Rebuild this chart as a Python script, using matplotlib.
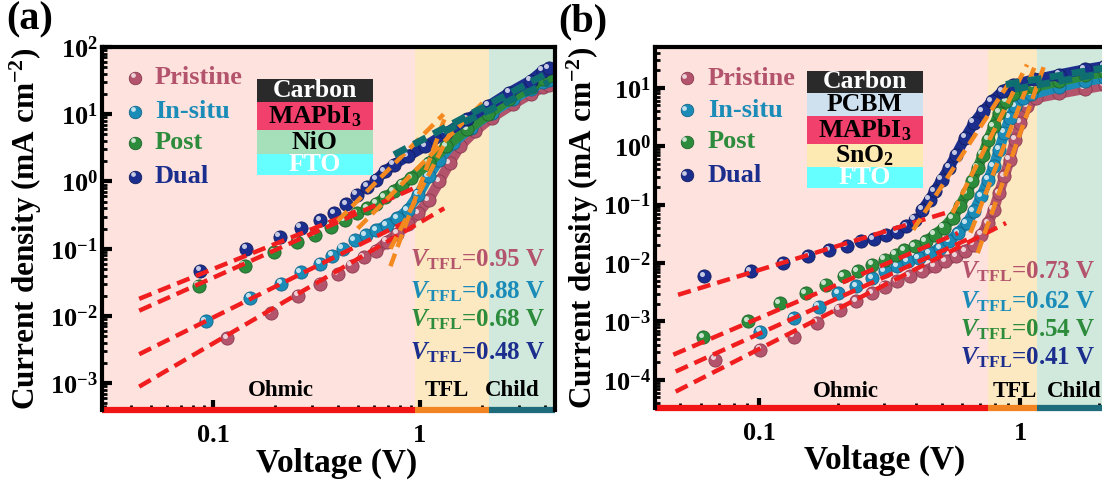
import numpy as np
import matplotlib
matplotlib.use('Agg')
import matplotlib.pyplot as plt
from matplotlib.transforms import ScaledTranslation, blended_transform_factory
from matplotlib.ticker import FixedLocator, LogLocator, NullFormatter, FuncFormatter, FixedFormatter
from matplotlib.patches import Rectangle

plt.rcParams['font.family'] = ['Liberation Serif', 'DejaVu Serif']
plt.rcParams['font.weight'] = 'bold'
plt.rcParams['mathtext.fontset'] = 'custom'
plt.rcParams['mathtext.rm'] = 'Liberation Serif:bold'
plt.rcParams['mathtext.it'] = 'Liberation Serif:italic:bold'
plt.rcParams['mathtext.bf'] = 'Liberation Serif:bold'

# ---------------- data: panel (a) ----------------
series_names = ['Pristine', 'In-situ', 'Post', 'Dual']

a_pristine_v = [0.117, 0.19, 0.258, 0.329, 0.40, 0.468, 0.536, 0.614, 0.69, 0.776, 0.873, 0.98, 1.10, 1.24, 1.39, 1.56, 1.84, 2.22, 2.81, 3.42, 3.92, 4.2]
a_pristine_j = [4.7e-3, 1.1e-2, 2.0e-2, 3.0e-2, 4.2e-2, 5.6e-2, 7.5e-2, 9.4e-2, 0.126, 0.168, 0.237, 0.335, 0.53, 1.0, 1.88, 3.35, 5.6, 8.9, 14.1, 20, 25, 27]
a_insitu_v = [0.0925, 0.151, 0.214, 0.265, 0.329, 0.377, 0.424, 0.485, 0.546, 0.614, 0.69, 0.776, 0.873, 0.98, 1.10, 1.24, 1.45, 1.76, 2.22, 2.81, 3.42, 3.92, 4.2]
a_insitu_j = [8.4e-3, 0.0188, 0.030, 0.0447, 0.0596, 0.079, 0.1, 0.133, 0.158, 0.188, 0.224, 0.282, 0.376, 0.63, 1.19, 2.11, 3.76, 6.3, 10.6, 16.8, 23.7, 29.9, 32]
a_post_v = [0.0856, 0.142, 0.198, 0.255, 0.31, 0.37, 0.432, 0.495, 0.557, 0.614, 0.676, 0.746, 0.82, 0.908, 1.10, 1.34, 1.69, 2.14, 2.70, 3.42, 3.92, 4.2]
a_post_j = [0.028, 0.056, 0.089, 0.126, 0.158, 0.211, 0.266, 0.335, 0.40, 0.47, 0.58, 0.71, 0.9, 1.12, 1.88, 3.35, 5.96, 10, 16.8, 25, 33.5, 37]
a_dual_v = [0.087, 0.145, 0.21, 0.265, 0.329, 0.385, 0.44, 0.495, 0.557, 0.614, 0.676, 0.746, 0.873, 1.06, 1.34, 1.69, 2.14, 2.70, 3.42, 3.92, 4.2]
a_dual_j = [0.047, 0.1, 0.15, 0.204, 0.266, 0.335, 0.46, 0.63, 0.84, 1.06, 1.41, 1.78, 2.37, 3.35, 5.3, 8.4, 13.3, 21, 31.6, 44.7, 48]

# fit lines (panel a): [V_start, V_end], [J_start, J_end]
a_ohmic_fit_v = [[0.044, 1.31], [0.044, 0.85], [0.044, 0.93], [0.044, 0.49]]
a_ohmic_fit_j = [[8.9e-4, 0.40], [2.7e-3, 0.25], [0.012, 0.79], [0.018, 0.36]]
a_tfl_fit_v = [[0.72, 1.33], [0.72, 1.5], [0.50, 2.1], [0.40, 1.30]]
a_tfl_fit_j = [[0.055, 9.5], [0.1, 8.0], [0.2, 17], [0.26, 10]]
a_child_fit_v = [[1.3, 4.2], [0.75, 4.2]]
a_child_fit_j = [[5.5, 30], [2.5, 42]]
a_vtfl = ['0.95', '0.88', '0.68', '0.48']
a_regions = [0.95, 2.15]
a_layers = ['Carbon', 'MAPbI$_\\mathbf{3}$', 'NiO', 'FTO']
a_yticks = [1e-3, 1e-2, 1e-1, 1e0, 1e1, 1e2]

# ---------------- data: panel (b) ----------------
b_pristine_v = [0.0679, 0.101, 0.136, 0.166, 0.204, 0.235, 0.271, 0.303, 0.338, 0.377, 0.421, 0.47, 0.516, 0.568, 0.614, 0.664, 0.708, 0.753, 0.79, 0.828, 0.869, 0.91, 0.955, 1.0, 1.06, 1.15, 1.41, 1.76, 2.1]
b_pristine_j = [2.2e-4, 3.3e-4, 5.5e-4, 9.6e-4, 1.58e-3, 2.2e-3, 3.06e-3, 3.9e-3, 4.85e-3, 5.9e-3, 7.2e-3, 8.8e-3, 0.0107, 0.013, 0.0158, 0.0206, 0.0306, 0.0485, 0.082, 0.158, 0.306, 0.59, 1.3, 2.51, 4.85, 6.7, 8.0, 9.6, 11]
b_insitu_v = [0.101, 0.136, 0.169, 0.201, 0.235, 0.271, 0.303, 0.338, 0.371, 0.408, 0.449, 0.493, 0.533, 0.577, 0.624, 0.664, 0.708, 0.753, 0.79, 0.828, 0.869, 0.91, 0.955, 1.02, 1.10, 1.41, 1.76, 2.1]
b_insitu_j = [6.7e-4, 1.14e-3, 1.8e-3, 3.06e-3, 3.98e-3, 5.5e-3, 7.2e-3, 8.8e-3, 0.0107, 0.0122, 0.0148, 0.0181, 0.0235, 0.0327, 0.0485, 0.0769, 0.139, 0.269, 0.454, 0.877, 1.69, 3.06, 4.85, 6.7, 7.7, 10.4, 13, 14.8]
b_post_v = [0.0612, 0.091, 0.12, 0.151, 0.18, 0.211, 0.239, 0.271, 0.303, 0.333, 0.36, 0.395, 0.435, 0.47, 0.508, 0.55, 0.586, 0.624, 0.654, 0.686, 0.719, 0.753, 0.79, 0.828, 0.881, 0.94, 1.13, 1.41, 1.76, 2.1]
b_post_j = [5.4e-4, 1.0e-3, 2.06e-3, 3.06e-3, 4.25e-3, 5.9e-3, 7.2e-3, 9.4e-3, 0.0114, 0.0139, 0.0165, 0.0193, 0.0235, 0.0306, 0.04, 0.059, 0.0935, 0.158, 0.251, 0.425, 0.72, 1.3, 2.2, 3.73, 5.9, 7.7, 10.4, 13, 16.3, 18.6]
b_dual_v = [0.0618, 0.093, 0.124, 0.154, 0.186, 0.217, 0.245, 0.275, 0.307, 0.338, 0.365, 0.395, 0.421, 0.449, 0.47, 0.50, 0.533, 0.568, 0.614, 0.664, 0.719, 0.778, 0.855, 0.94, 1.13, 1.41, 1.76, 2.1]
b_dual_j = [5.9e-3, 7.2e-3, 0.01, 0.013, 0.0165, 0.0193, 0.0235, 0.0258, 0.0306, 0.034, 0.0425, 0.0553, 0.082, 0.122, 0.169, 0.269, 0.425, 0.72, 1.39, 2.51, 3.98, 5.9, 8.8, 11.4, 13.9, 16.9, 20.6, 23.5]

b_ohmic_fit_v = [[0.048, 0.881], [0.048, 0.624], [0.047, 0.577], [0.049, 0.516]]
b_ohmic_fit_j = [[6.3e-5, 0.0485], [1.39e-4, 0.0251], [2.7e-4, 0.0327], [2.86e-3, 0.072]]
b_tfl_fit_v = [[0.686, 1.25], [0.644, 1.135], [0.55, 1.06], [0.389, 0.94]]
b_tfl_fit_j = [[0.0148, 28.7], [0.033, 23.5], [0.072, 25], [0.037, 15.8]]
b_child_fit_v = [[0.95, 2.1], [0.88, 2.1]]
b_child_fit_j = [[9.5, 18], [11.4, 22]]
b_vtfl = ['0.73', '0.62', '0.54', '0.41']
b_regions = [0.75, 1.16]
b_layers = ['Carbon', 'PCBM', 'MAPbI$_\\mathbf{3}$', 'SnO$_\\mathbf{2}$', 'FTO']
b_yticks = [1e-4, 1e-3, 1e-2, 1e-1, 1e0, 1e1]

xtick_vals = [0.1, 1]
xtick_labels = ['0.1', '1']

# ---------------- styles ----------------
colors = ['#b3546c', '#1b8cb8', '#2c8c3c', '#1b2e8e']
edge_colors = ['#8a3a50', '#12658a', '#1d6329', '#101d60']
bg_colors = ['#fde2de', '#fde9c1', '#d0e9dc']
bottom_colors = ['#f01414', '#f28322', '#1e6b7b']
fit_red = '#f01e1e'
fit_orange = '#f4891f'
fit_teal = '#0f6e70'
a_layer_colors = ['#2a2a2a', '#f2406c', '#a6e0bb', '#66ffff']
a_layer_text = ['white', 'black', 'black', 'white']
b_layer_colors = ['#2a2a2a', '#cfe0ef', '#f2406c', '#fde9b2', '#66ffff']
b_layer_text = ['white', 'black', 'black', 'black', 'white']

W, H = 1102, 483
fig = plt.figure(figsize=(W / 100, H / 100), dpi=100)


def px_axes(l, r, t, b):
    return fig.add_axes([l / W, (H - b) / H, (r - l) / W, (b - t) / H])


ax_a = px_axes(102, 555, 47, 410)
ax_b = px_axes(655, 1112, 47, 408)


def sphere(ax, v, j, color, ecolor, ms, transform=None, z=5):
    tr = transform if transform is not None else ax.transData
    clip = transform is None
    ax.plot(v, j, 'o', ms=ms, mfc=color, mec=ecolor, mew=0.6, transform=tr, zorder=z, clip_on=clip)
    off = tr + ScaledTranslation(-1.8 / 72, 1.8 / 72, fig.dpi_scale_trans)
    ax.plot(v, j, 'o', ms=ms * 0.38, mfc='white', mec='none', alpha=0.75, transform=off, zorder=z + 0.1,
            clip_on=clip)


def make_panel(ax, xlim, ylim, yticks, series, ohm, tfl, child, regions, vtfl, layers, layer_cols, layer_txt,
               leg_x, leg_y, txt_x, layer_box, vt_x, vt_y, reg_pos, dense_from, ylab_x, xlab_x):
    ax.set_xscale('log')
    ax.set_yscale('log')
    ax.set_xlim(*xlim)
    ax.set_ylim(*ylim)
    # background regions
    bounds = [xlim[0], regions[0], regions[1], xlim[1] * 1.5]
    for i in range(3):
        ax.axvspan(bounds[i], bounds[i + 1], color=bg_colors[i], zorder=0, lw=0)
    # bottom coloured line
    btr = blended_transform_factory(ax.transData, ax.transAxes)
    for i in range(3):
        ax.plot([bounds[i], min(bounds[i + 1], xlim[1])], [0, 0], color=bottom_colors[i], lw=4.5,
                transform=btr, clip_on=False, solid_capstyle='butt', zorder=10)
    # data
    for k, (v, j) in enumerate(series):
        v = np.asarray(v)
        j = np.asarray(j)
        m = v >= dense_from
        ax.plot(v[m], j[m], '-', color=colors[k], lw=7.5, zorder=3 + k * 0.5, solid_capstyle='round')
        sphere(ax, v, j, colors[k], edge_colors[k], 9.5, z=3.2 + k * 0.5)
    # fits
    for fv, fj in zip(*ohm):
        ax.plot(fv, fj, color=fit_red, lw=3.2, ls=(0, (3, 1.6)), zorder=8)
    for fv, fj in zip(*tfl):
        ax.plot(fv, fj, color=fit_orange, lw=3.2, ls=(0, (3, 1.6)), zorder=8)
    for fv, fj in zip(*child):
        ax.plot(fv, fj, color=fit_teal, lw=5, ls=(0, (2, 1.2)), zorder=8)
    # spines / ticks
    ax.spines['bottom'].set_visible(False)
    for s in ['left', 'top', 'right']:
        ax.spines[s].set_linewidth(3)
        ax.spines[s].set_zorder(11)
    ax.xaxis.set_major_locator(FixedLocator(xtick_vals))
    ax.xaxis.set_major_formatter(FixedFormatter(xtick_labels))
    ax.xaxis.set_minor_locator(LogLocator(base=10, subs=np.arange(2, 10)))
    ax.xaxis.set_minor_formatter(NullFormatter())
    ax.yaxis.set_major_locator(FixedLocator(yticks))
    ax.yaxis.set_major_formatter(FuncFormatter(lambda y, p: r'$\mathbf{10^{%d}}$' % int(round(np.log10(y)))))
    ax.yaxis.set_minor_locator(LogLocator(base=10, subs=np.arange(2, 10)))
    ax.yaxis.set_minor_formatter(NullFormatter())
    ax.tick_params(axis='both', which='major', direction='in', length=7, width=3, labelsize=19, color='black')
    ax.tick_params(axis='both', which='minor', direction='in', length=3.5, width=2, color='black')
    ax.tick_params(axis='x', which='major', pad=10)
    ax.tick_params(axis='y', which='major', pad=3)
    for t in ax.get_xticklabels() + ax.get_yticklabels():
        t.set_fontweight('bold')
    ax.set_xlabel('Voltage (V)', fontsize=24, fontweight='bold')
    ax.set_ylabel('Current density (mA cm$^{\\mathbf{-2}}$)', fontsize=22.5, fontweight='bold')
    ax.xaxis.set_label_coords(xlab_x, -0.103)
    ax.yaxis.set_label_coords(ylab_x, 0.50)
    # legend
    for k, name in enumerate(series_names):
        sphere(ax, [leg_x], [leg_y[k]], colors[k], edge_colors[k], 9, transform=ax.transAxes, z=12)
        ax.text(txt_x, leg_y[k], name, transform=ax.transAxes, color=colors[k], fontsize=19,
                fontweight='bold', va='center', ha='left', zorder=12)
    # device stack
    bl, br, rows = layer_box
    for i, lab in enumerate(layers):
        y0, y1 = rows[i + 1], rows[i]
        ax.add_patch(Rectangle((bl, y0), br - bl, y1 - y0, transform=ax.transAxes,
                               facecolor=layer_cols[i], edgecolor='none', zorder=12))
        ax.text((bl + br) / 2, (y0 + y1) / 2, lab, transform=ax.transAxes, color=layer_txt[i],
                fontsize=18.5, fontweight='bold', ha='center', va='center', zorder=13)
    # V_TFL labels
    for k in range(4):
        ax.text(vt_x, vt_y[k], r'$V_{\mathrm{TFL}}$=' + vtfl[k] + ' V', transform=ax.transAxes,
                color=colors[k], fontsize=18, fontweight='bold', ha='right', va='center', zorder=12)
    for lab, (x, y) in zip(['Ohmic', 'TFL', 'Child'], reg_pos):
        ax.text(x, y, lab, transform=ax.transAxes, fontsize=16.5, fontweight='bold',
                ha='center', va='center', zorder=12)


make_panel(ax_a, (0.0291, 4.49), (4.0e-4, 100), a_yticks,
           [(a_pristine_v, a_pristine_j), (a_insitu_v, a_insitu_j), (a_post_v, a_post_j), (a_dual_v, a_dual_j)],
           (a_ohmic_fit_v, a_ohmic_fit_j), (a_tfl_fit_v, a_tfl_fit_j), (a_child_fit_v, a_child_fit_j),
           a_regions, a_vtfl, a_layers, a_layer_colors, a_layer_text,
           0.073, [0.915, 0.821, 0.736, 0.642], 0.117,
           (0.342, 0.598, [0.912, 0.848, 0.771, 0.705, 0.647]),
           0.978, [0.413, 0.325, 0.248, 0.157],
           [(0.395, 0.055), (0.762, 0.055), (0.905, 0.055)], 0.6, -0.128, 0.517)

make_panel(ax_b, (0.040, 2.24), (3.3e-5, 50), b_yticks,
           [(b_pristine_v, b_pristine_j), (b_insitu_v, b_insitu_j), (b_post_v, b_post_j), (b_dual_v, b_dual_j)],
           (b_ohmic_fit_v, b_ohmic_fit_j), (b_tfl_fit_v, b_tfl_fit_j), (b_child_fit_v, b_child_fit_j),
           b_regions, b_vtfl, b_layers, b_layer_colors, b_layer_text,
           0.070, [0.914, 0.825, 0.737, 0.645], 0.116,
           (0.333, 0.586, [0.934, 0.873, 0.809, 0.731, 0.668, 0.609]),
           0.963, [0.377, 0.294, 0.216, 0.139],
           [(0.418, 0.045), (0.788, 0.045), (0.917, 0.045)], 0.4, -0.118, 0.503)

fig.text(6 / W, 1 - 20 / H, '(a)', fontsize=29, fontweight='bold', ha='left', va='center')
fig.text(558 / W, 1 - 22 / H, '(b)', fontsize=29, fontweight='bold', ha='left', va='center')

fig.savefig('out.png', dpi=100)
